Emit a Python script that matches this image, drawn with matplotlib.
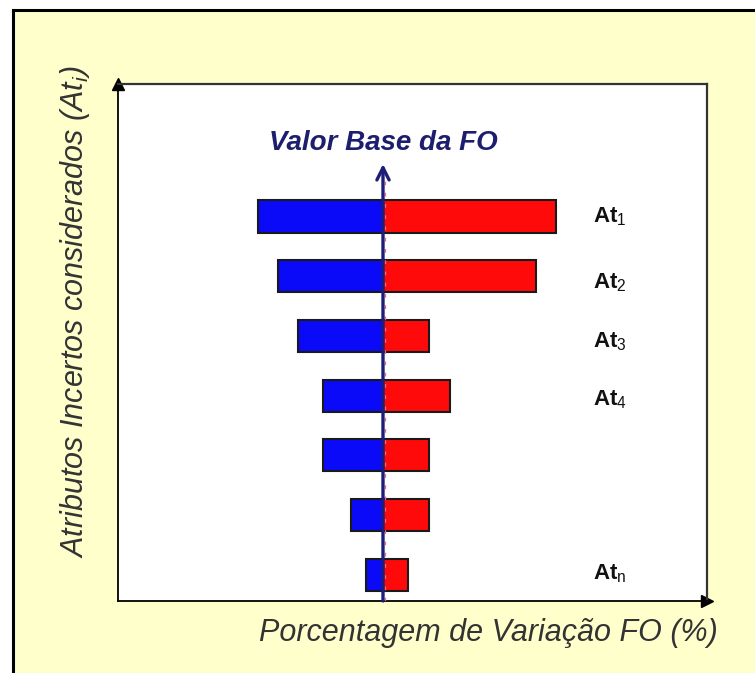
import matplotlib
matplotlib.use("Agg")
import matplotlib.pyplot as plt
from matplotlib.patches import Rectangle
from matplotlib.lines import Line2D

plt.rcParams['font.family'] = ['Liberation Sans', 'DejaVu Sans']
plt.rcParams['mathtext.fontset'] = 'custom'
plt.rcParams['mathtext.rm'] = 'Liberation Sans'
plt.rcParams['mathtext.it'] = 'Liberation Sans:italic'
plt.rcParams['mathtext.bf'] = 'Liberation Sans:bold'

# tornado data (variation of FO, arbitrary % units, base value at 0)
rows = [6, 5, 4, 3, 2, 1, 0]
low_vals = [-125, -105, -85, -60, -60, -32, -17]
high_vals = [173, 153, 46, 67, 46, 46, 25]

attr_labels = [r'$\mathbf{At}_\mathrm{1}$', r'$\mathbf{At}_\mathrm{2}$', r'$\mathbf{At}_\mathrm{3}$',
               r'$\mathbf{At}_\mathrm{4}$', r'$\mathbf{At}_\mathrm{n}$']
attr_label_y = [5.91, 4.80, 3.81, 2.84, -0.07]

W, H = 755, 673
fig = plt.figure(figsize=(W / 100, H / 100), dpi=100)
fig.patch.set_facecolor('white')

# yellow panel with black left/top edge
fig.patches.append(Rectangle((13 / W, 0), 1, 1 - 10 / H, transform=fig.transFigure,
                             facecolor='#FFFFCC', edgecolor='none', zorder=-2))
fig.lines.append(Line2D([13 / W, 13 / W], [0, 1 - 10 / H], transform=fig.transFigure,
                        color='black', lw=2.2, zorder=-1))
fig.lines.append(Line2D([13 / W, 1], [1 - 10 / H, 1 - 10 / H], transform=fig.transFigure,
                        color='black', lw=2.2, zorder=-1))

ax = fig.add_axes([118 / W, 1 - 601 / H, (707 - 118) / W, (601 - 84) / H])
ax.set_zorder(2)
ax.set_facecolor('white')
ax.set_xlim(-265, 324)
ax.set_ylim(-0.44, 8.22)

ax.barh(rows, low_vals, height=0.54, color='#0A0AF8', edgecolor='#1a1a1a', lw=1.5, zorder=2)
ax.barh(rows, high_vals, height=0.54, color='#FF0A0A', edgecolor='#1a1a1a', lw=1.5, zorder=2)

# base value arrow
ax.plot([2, 2], [-0.44, 6.6], color='#E07090', lw=0.9, ls=(0, (3, 6)), zorder=3)
ax.annotate('', xy=(0, 6.88), xytext=(0, -0.44),
            arrowprops=dict(arrowstyle='->', lw=2.4, color='#1E1E78', mutation_scale=22,
                            shrinkA=0, shrinkB=0), zorder=4)
ax.text(0, 7.23, 'Valor Base da FO', ha='center', va='center', fontsize=20,
        fontweight='bold', fontstyle='italic', color='#1E1E6E')

for lab, yy in zip(attr_labels, attr_label_y):
    ax.text(210, yy, lab, ha='left', va='baseline', fontsize=16, color='#111111')

ax.set_xticks([])
ax.set_yticks([])
for s in ['top', 'right']:
    ax.spines[s].set_color('#333333')
    ax.spines[s].set_linewidth(1.6)
for s in ['left', 'bottom']:
    ax.spines[s].set_color('black')
    ax.spines[s].set_linewidth(1.3)

# axis arrowheads
ax.plot(1, 0, '>', color='black', ms=9, transform=ax.transAxes, clip_on=False)
ax.plot(0, 1, '^', color='black', ms=9, transform=ax.transAxes, clip_on=False)

fig.text(488 / W, 1 - 633 / H, 'Porcentagem de Variação FO (%)', ha='center', va='center',
         fontsize=22, fontstyle='italic', color='#333333')
fig.text(75 / W, 1 - 312 / H, r'Atributos Incertos considerados (At$_i$)', ha='center',
         va='center', rotation=90, fontsize=22, fontstyle='italic', color='#333333')

fig.savefig('out.png', dpi=100, facecolor=fig.get_facecolor())
